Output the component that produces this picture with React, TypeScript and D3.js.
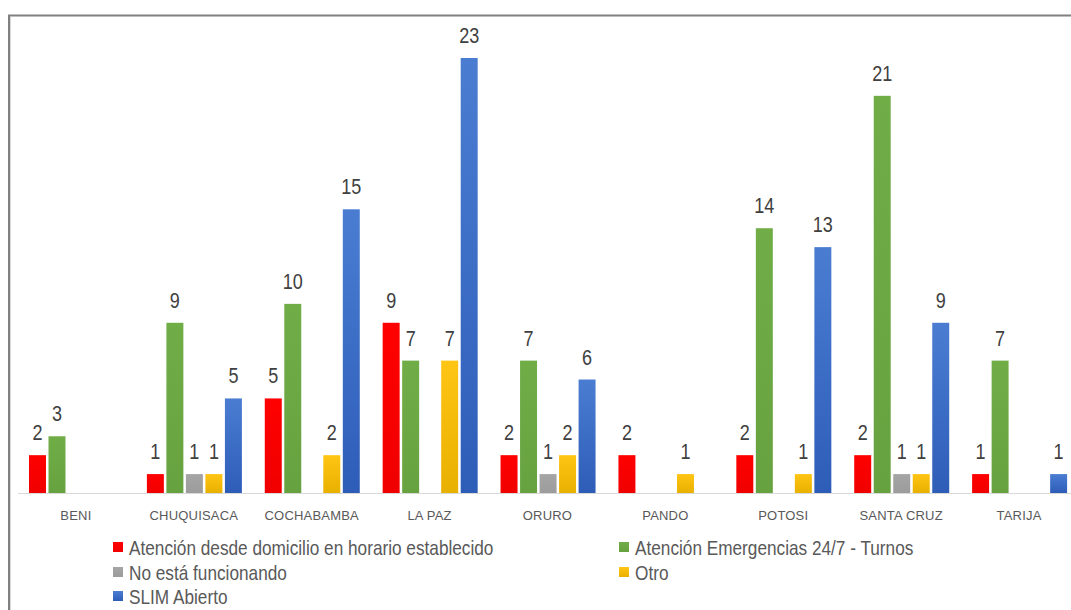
import React from "react";
import * as d3 from "d3";

const categories = ["BENI", "CHUQUISACA", "COCHABAMBA", "LA PAZ", "ORURO", "PANDO", "POTOSI", "SANTA CRUZ", "TARIJA"];
const seriesNames = [
  "Atención desde domicilio en horario establecido",
  "Atención Emergencias 24/7 - Turnos",
  "No está funcionando",
  "Otro",
  "SLIM Abierto",
];
const domicilio = [2, 1, 5, 9, 2, 2, 2, 2, 1];
const emergencias = [3, 9, 10, 7, 7, 0, 14, 21, 7];
const noFunciona = [0, 1, 0, 0, 1, 0, 0, 1, 0];
const otro = [0, 1, 2, 7, 2, 1, 1, 1, 0];
const slim = [0, 5, 15, 23, 6, 0, 13, 9, 1];
const seriesValues = [domicilio, emergencias, noFunciona, otro, slim];
const colorsTop = ["#FF0000", "#70AD47", "#A5A5A5", "#FFC514", "#4A7DD2"];
const colorsBottom = ["#F00000", "#67A240", "#9C9C9C", "#E8B000", "#2E5DB8"];

const W = 1071;
const H = 610;
const NARROW = 0.82;
const FONT = "'Liberation Sans', Arial, sans-serif";

export default function App() {
  const x0 = d3.scaleBand<string>().domain(categories).range([17, 1078]).padding(0);
  const x1 = d3
    .scaleBand<number>()
    .domain(d3.range(seriesNames.length))
    .range([12, 107])
    .paddingInner(0.13)
    .paddingOuter(0);
  const y = d3.scaleLinear().domain([0, 23]).range([493, 58]);

  const legendPos = [
    { x: 113, y: 547 },
    { x: 619, y: 547 },
    { x: 113, y: 572 },
    { x: 619, y: 572 },
    { x: 113, y: 596 },
  ];

  return (
    <div style={{ position: "fixed", left: 0, top: 0 }}>
      <svg width={W} height={H} style={{ display: "block", background: "#fff" }}>
        <defs>
          {colorsTop.map((c, i) => (
            <linearGradient key={i} id={`g${i}`} x1="0" y1="0" x2="0" y2="1">
              <stop offset="0" stopColor={c} />
              <stop offset="1" stopColor={colorsBottom[i]} />
            </linearGradient>
          ))}
        </defs>
        <path d={`M9,${H} V15.5 H${W}`} fill="none" stroke="#808080" strokeWidth={2} />
        <line x1={10.5} x2={10.5} y1={17} y2={H} stroke="#d8d8d8" strokeWidth={1} />
        <line x1={18} x2={W} y1={y(0) + 0.5} y2={y(0) + 0.5} stroke="#D9D9D9" strokeWidth={1} />
        {categories.map((cat, ci) => (
          <g key={cat} transform={`translate(${x0(cat)},0)`}>
            {seriesValues.map((vals, si) => {
              const v = vals[ci];
              if (!v) return null;
              const bx = x1(si)!;
              const bw = x1.bandwidth();
              return (
                <g key={si}>
                  <rect x={bx} y={y(v)} width={bw} height={y(0) - y(v)} fill={`url(#g${si})`} />
                  <g transform={`translate(${bx + bw / 2},${y(v) - 15}) scale(${NARROW},1)`}>
                    <text x={0} y={0} textAnchor="middle" fontFamily={FONT} fontSize={22} fill="#404040">
                      {v}
                    </text>
                  </g>
                </g>
              );
            })}
            <text
              x={x0.bandwidth() / 2}
              y={520}
              textAnchor="middle"
              fontFamily={FONT}
              fontSize={13}
              fill="#595959"
              letterSpacing={0.2}
            >
              {cat}
            </text>
          </g>
        ))}
        {seriesNames.map((name, i) => (
          <g key={name} transform={`translate(${legendPos[i].x},${legendPos[i].y})`}>
            <rect x={0} y={-5} width={10} height={10} fill={`url(#g${i})`} />
            <g transform={`translate(16,7.5) scale(${NARROW},1)`}>
              <text x={0} y={0} fontFamily={FONT} fontSize={21} fill="#595959">
                {name}
              </text>
            </g>
          </g>
        ))}
      </svg>
    </div>
  );
}
